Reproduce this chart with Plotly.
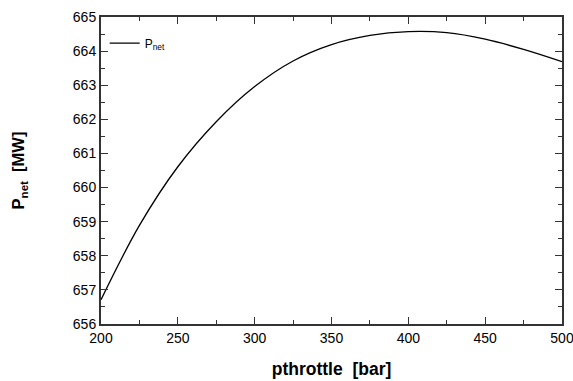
import plotly.graph_objects as go

pthrottle = [200, 225, 250, 275, 300, 325, 350, 375, 400, 425, 450, 475, 500]
p_net = [656.71, 658.89, 660.61, 661.93, 662.96, 663.71, 664.19, 664.46, 664.57, 664.54, 664.35, 664.05, 663.69]

x_ticks = [200, 250, 300, 350, 400, 450, 500]
y_ticks = [656, 657, 658, 659, 660, 661, 662, 663, 664, 665]

FONT = "Liberation Sans, Arial"

fig = go.Figure()
fig.add_trace(go.Scatter(
    x=pthrottle, y=p_net, mode="lines", name="P<sub>net</sub>",
    line=dict(color="black", width=1.3, shape="spline", smoothing=1.0),
))

axis_common = dict(
    showline=True, linecolor="#333333", linewidth=2, mirror="allticks",
    ticks="inside", ticklen=7, tickwidth=1.3, tickcolor="#333333",
    showgrid=False, zeroline=False, automargin=False, ticklabeloverflow="allow",
    tickfont=dict(family=FONT, size=14, color="black"),
)

fig.update_layout(
    width=573, height=381,
    paper_bgcolor="white", plot_bgcolor="white",
    margin=dict(l=101, r=11, t=17, b=57),
    showlegend=True,
    legend=dict(
        x=0.008, y=0.962, xanchor="left", yanchor="top",
        bgcolor="rgba(0,0,0,0)", borderwidth=0,
        font=dict(family=FONT, size=12, color="black"),
    ),
    xaxis=dict(
        range=[200, 500], tickvals=x_ticks,
        minor=dict(ticks="inside", ticklen=4, tickwidth=1.3, tickcolor="#333333", dtick=25),
        title=dict(text="<b>pthrottle  [bar]</b>", font=dict(family=FONT, size=17.5, color="black"), standoff=18),
        **axis_common,
    ),
    yaxis=dict(
        range=[656, 665], tickvals=y_ticks,
        minor=dict(ticks="inside", ticklen=4, tickwidth=1.3, tickcolor="#333333", dtick=0.5),
        title=dict(text="<b>P<sub>net</sub>  [MW]</b>", font=dict(family=FONT, size=16.5, color="black"), standoff=44),
        **axis_common,
    ),
)

fig.write_html(
    "out.html",
    config={"displayModeBar": False},
    post_script="document.body.style.margin='0';document.body.style.overflow='hidden';",
)
